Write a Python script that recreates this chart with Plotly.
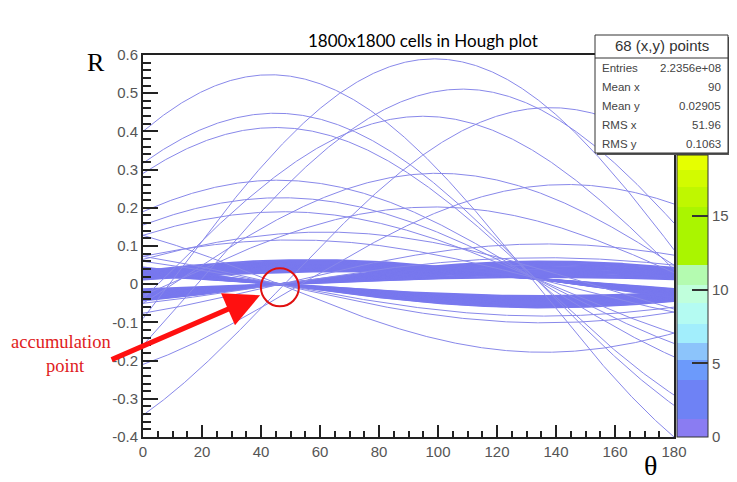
import numpy as np
import plotly.graph_objects as go

# ---- data: (x, y) points whose Hough curves R = x cos(theta) + y sin(theta) are drawn
line_pts_x = [0.400, 0.290, 0.190, 0.128, 0.128, -0.343, -0.090, -0.160, -0.210, -0.038,
              -0.050, -0.030, 0.073, -0.050, -0.076, 0.060, 0.073, 0.317, 0.155, 0.065]
line_pts_y = [0.375, 0.290, 0.195, 0.140, -0.124, 0.310, 0.583, 0.485, 0.155, 0.438,
              0.286, 0.200, -0.070, 0.048, 0.073, -0.058, 0.090, 0.316, 0.165, 0.120]

# clustered points that form the dense bands near R = 0
band_pts_x = [0.022, 0.0235, 0.025, 0.0265, 0.028, 0.0295, 0.031, 0.0325,
              0.034, 0.0355, 0.037, 0.0385, 0.040, 0.0415, 0.043, 0.044,
              -0.013, -0.015, -0.017, -0.019, -0.021, -0.023, -0.025, -0.027,
              -0.029, -0.031, -0.033, -0.035, -0.037, -0.039, -0.041, -0.043,
              0.012, 0.0135, 0.015, 0.0165, 0.018, 0.0195, 0.021, 0.0225,
              0.024, 0.0255, 0.027, 0.0285, 0.030, 0.0315, 0.033, 0.035]
band_pts_y = [-0.0213, -0.0227, -0.0242, -0.0256, -0.0270, -0.0285, -0.0299, -0.0314,
              -0.0328, -0.0343, -0.0357, -0.0372, -0.0386, -0.0401, -0.0415, -0.0425,
              0.0126, 0.0145, 0.0164, 0.0184, 0.0203, 0.0222, 0.0242, 0.0261,
              0.0280, 0.0299, 0.0319, 0.0338, 0.0357, 0.0377, 0.0396, 0.0415,
              0.0317, 0.0331, 0.0345, 0.0359, 0.0373, 0.0387, 0.0401, 0.0415,
              0.0429, 0.0443, 0.0457, 0.0471, 0.0485, 0.0499, 0.0513, 0.0532]

x_ticks = [0, 20, 40, 60, 80, 100, 120, 140, 160, 180]
y_ticks = [-0.4, -0.3, -0.2, -0.1, 0, 0.1, 0.2, 0.3, 0.4, 0.5, 0.6]
y_tick_text = ["-0.4", "-0.3", "-0.2", "-0.1", "0", "0.1", "0.2", "0.3", "0.4", "0.5", "0.6"]

palette_bounds = [0, 1.2, 3.9, 5.2, 6.4, 7.7, 9.1, 10.3, 11.7, 15.6, 17.0, 18.1, 19.15]
palette_colors = ["#8a7cf2", "#6e82f5", "#6c9afb", "#8cc4fb", "#a2eefc", "#b4fbf2",
                  "#c0ffdc", "#b4fbb0", "#aaf500", "#bff700", "#d2fb00", "#e6ff00"]
cbar_ticks = [0, 5, 10, 15]

stat_title = "68 (x,y) points"
stat_names = ["Entries", "Mean x", "Mean y", "RMS x", "RMS y"]
stat_values = ["2.2356e+08", "90", "0.02905", "51.96", "0.1063"]

title_text = "1800x1800 cells in Hough plot"

# ---- build curves
theta = np.linspace(0, 180, 721)
rad = np.deg2rad(theta)


def curves(xs, ys):
    cx, cy = [], []
    for px_, py_ in zip(xs, ys):
        cx.extend(theta.tolist() + [None])
        cy.extend((px_ * np.cos(rad) + py_ * np.sin(rad)).tolist() + [None])
    return cx, cy


lx, ly = curves(line_pts_x, line_pts_y)
bx, by = curves(band_pts_x, band_pts_y)

fig = go.Figure()
fig.add_trace(go.Scatter(x=bx, y=by, mode="lines",
                         line=dict(color="#7878ee", width=1.8),
                         hoverinfo="skip", showlegend=False))
fig.add_trace(go.Scatter(x=lx, y=ly, mode="lines",
                         line=dict(color="#8888ea", width=1.0),
                         hoverinfo="skip", showlegend=False))

cmax = palette_bounds[-1]
cscale = []
for i, c in enumerate(palette_colors):
    cscale.append([palette_bounds[i] / cmax, c])
    cscale.append([palette_bounds[i + 1] / cmax, c])

# page body has an 8px margin; geometry below given in screen pixels
OFF = 8
FIG_W, FIG_H = 737 - OFF, 482 - OFF
L, R_, T, B = 143, 674, 55, 437          # plot area on screen
W, H = R_ - L, B - T


def px(xp):
    return (xp - L) / W


def py(yp):
    return (B - yp) / H


fig.add_trace(go.Scatter(
    x=[90], y=[0], mode="markers", hoverinfo="skip", showlegend=False,
    marker=dict(size=1, opacity=0, color=[0], colorscale=cscale, cmin=0, cmax=cmax,
                showscale=True,
                colorbar=dict(x=px(677), xanchor="left", xpad=0, y=0, yanchor="bottom",
                              ypad=0, len=(B - 155) / H, lenmode="fraction",
                              thickness=31, thicknessmode="pixels",
                              outlinewidth=1, outlinecolor="#333",
                              tickvals=cbar_ticks, ticks="inside", ticklen=16,
                              tickwidth=2, tickcolor="#333",
                              tickfont=dict(family="Liberation Sans", size=15, color="#555")))))

axis_common = dict(showgrid=False, zeroline=False, showline=True, linecolor="#222",
                   linewidth=2, mirror=True, ticks="inside", tickcolor="#222",
                   tickfont=dict(family="Liberation Sans", size=15, color="#555"))

fig.update_layout(
    width=FIG_W, height=FIG_H,
    margin=dict(l=L - OFF, r=FIG_W - (R_ - OFF), t=T - OFF, b=FIG_H - (B - OFF),
                autoexpand=False),
    paper_bgcolor="white", plot_bgcolor="white",
    xaxis=dict(range=[0, 180], tickvals=x_ticks, ticklen=12, tickwidth=2,
               minor=dict(dtick=5, ticklen=6, tickwidth=1.5, ticks="inside",
                          tickcolor="#222", showgrid=False),
               **axis_common),
    yaxis=dict(range=[-0.4, 0.6], tickvals=y_ticks, ticktext=y_tick_text,
               ticklen=15, tickwidth=2,
               minor=dict(dtick=0.02, ticklen=8, tickwidth=2, ticks="inside",
                          tickcolor="#222", showgrid=False),
               **axis_common),
)

shapes = []
# stats box with shadow
shapes.append(dict(type="rect", xref="paper", yref="paper", layer="above",
                   x0=px(597), x1=px(730), y0=py(155), y1=py(37),
                   fillcolor="#555", line=dict(width=0)))
shapes.append(dict(type="rect", xref="paper", yref="paper", layer="above",
                   x0=px(595), x1=px(728), y0=py(153), y1=py(35),
                   fillcolor="white", line=dict(color="#333", width=1)))
shapes.append(dict(type="line", xref="paper", yref="paper", layer="above",
                   x0=px(595), x1=px(728), y0=py(58), y1=py(58),
                   line=dict(color="#333", width=1)))
# red circle around accumulation point
shapes.append(dict(type="circle", xref="x", yref="y", layer="above",
                   x0=46.4 - 19 / 2.95, x1=46.4 + 19 / 2.95,
                   y0=-0.008 - 19 / H, y1=-0.008 + 19 / H,
                   line=dict(color="#e01010", width=2)))
fig.update_layout(shapes=shapes)


def label(xs, ys, text, size, color, family, xanchor="center"):
    return dict(xref="paper", yref="paper", x=px(xs), y=py(ys), text=text,
                xanchor=xanchor, yanchor="middle", showarrow=False,
                font=dict(family=family, size=size, color=color))


ann = []
ann.append(label(423, 41, title_text, 17, "black", "Lato"))
ann.append(label(96, 62, "R", 26, "black", "Liberation Serif"))
ann.append(label(650, 465, "θ", 28, "black", "Liberation Serif"))
ann.append(label(61, 342, "accumulation", 18.5, "#e02020", "Liberation Serif"))
ann.append(label(65, 366, "point", 18.5, "#e02020", "Liberation Serif"))
ann.append(dict(xref="x", yref="y", x=39.7, y=-0.029, ax=-150, ay=65, text="",
                showarrow=True, arrowhead=2, arrowsize=1.4, arrowwidth=5,
                arrowcolor="#ff1010"))
ann.append(label(662, 46, stat_title, 15, "#333", "Liberation Sans"))
row_y = [68, 87, 106, 125, 144]
for name, val, yy in zip(stat_names, stat_values, row_y):
    ann.append(label(600, yy, name, 11.5, "#444", "Liberation Sans", xanchor="left"))
    ann.append(label(723, yy, val, 11.5, "#444", "Liberation Sans", xanchor="right"))
fig.update_layout(annotations=ann)

fig.write_html("out.html")
